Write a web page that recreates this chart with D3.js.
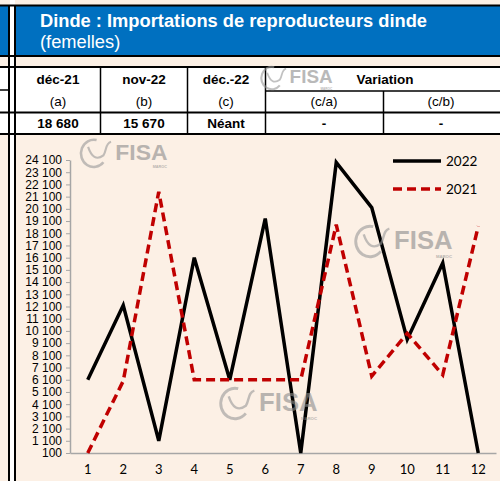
<!DOCTYPE html>
<html>
<head>
<meta charset="utf-8">
<script src="https://cdn.jsdelivr.net/npm/d3@7"></script>
<style>
  body { margin: 0; background: #fff; }
  svg { display: block; }
</style>
</head>
<body>
<svg id="chart" width="500" height="481"></svg>
<script>
// data
var months = ["1","2","3","4","5","6","7","8","9","10","11","12"];
var val2022 = [6100, 12200, 1100, 16100, 6100, 19300, 100, 23900, 20200, 9400, 15670, 100];
var val2021 = [100, 6000, 21500, 6100, 6100, 6100, 6100, 18800, 6400, 9900, 6500, 18680];
var yTicks = d3.range(100, 24101, 1000);

var tableHead = ["déc-21", "nov-22", "déc.-22"];
var tableSub = ["(a)", "(b)", "(c)", "(c/a)", "(c/b)"];
var tableVals = ["18 680", "15 670", "Néant", "-", "-"];

var blue = "#0070C0", beige = "#FCF0E5";
var svg = d3.select("#chart");

// background panels
svg.append("rect").attr("width", 500).attr("height", 481).attr("fill", beige);
svg.append("rect").attr("x", 10).attr("width", 5).attr("height", 481).attr("fill", "#fff");
svg.append("rect").attr("x", 0).attr("y", 6).attr("width", 9).attr("height", 49).attr("fill", blue);
svg.append("rect").attr("x", 16).attr("y", 6).attr("width", 484).attr("height", 49).attr("fill", blue);
svg.append("rect").attr("x", 16).attr("y", 67).attr("width", 484).attr("height", 67).attr("fill", "#fff");
svg.append("rect").attr("x", 0).attr("y", 67).attr("width", 9).attr("height", 67).attr("fill", "#fff");

function hline(x1, x2, y, w) {
  svg.append("line").attr("x1", x1).attr("x2", x2).attr("y1", y).attr("y2", y)
    .attr("stroke", "#000").attr("stroke-width", w);
}
function vline(x, y1, y2, w) {
  svg.append("line").attr("x1", x).attr("x2", x).attr("y1", y1).attr("y2", y2)
    .attr("stroke", "#000").attr("stroke-width", w);
}
hline(0, 500, 5.5, 2);
hline(0, 500, 56, 2);
hline(0, 500, 67, 2);
hline(0, 9, 90, 1.5);
hline(265, 500, 91, 1.5);
hline(0, 500, 112.5, 2);
hline(0, 500, 134, 2);
vline(9, 5, 481, 2);
vline(15, 5, 481, 2);
vline(100.5, 67, 134, 1.5);
vline(187.5, 67, 134, 1.5);
vline(265.5, 67, 134, 1.5);
vline(383.5, 91, 134, 1.5);

// header
svg.append("text").attr("x", 40).attr("y", 27).attr("fill", "#fff")
  .attr("font-family", "Liberation Sans, Arial").attr("font-weight", "bold").attr("font-size", 18.3)
  .text("Dinde : Importations de reproducteurs dinde");
svg.append("text").attr("x", 40).attr("y", 48).attr("fill", "#fff")
  .attr("font-family", "Liberation Sans, Arial").attr("font-size", 18.3)
  .text("(femelles)");

// table
var colCenters = [58, 144, 226, 324, 441];
var tfont = "Liberation Sans, Arial";
tableHead.forEach(function(t, i) {
  svg.append("text").attr("x", colCenters[i]).attr("y", 84).attr("text-anchor", "middle")
    .attr("font-family", tfont).attr("font-weight", "bold").attr("font-size", 13.5).text(t);
});
svg.append("text").attr("x", 385).attr("y", 84).attr("text-anchor", "middle")
  .attr("font-family", tfont).attr("font-weight", "bold").attr("font-size", 13.5).text("Variation");
tableSub.forEach(function(t, i) {
  svg.append("text").attr("x", colCenters[i]).attr("y", 106).attr("text-anchor", "middle")
    .attr("font-family", tfont).attr("font-size", 13.5).text(t);
});
tableVals.forEach(function(t, i) {
  svg.append("text").attr("x", colCenters[i]).attr("y", 128).attr("text-anchor", "middle")
    .attr("font-family", tfont).attr("font-weight", "bold").attr("font-size", 13.5).text(t);
});

// watermark logo (swirl + FISA)
function fisa(x, y, s) {
  var g = svg.append("g").attr("transform", "translate(" + x + "," + y + ") scale(" + s + ")")
    .attr("opacity", 0.6);
  g.append("path").attr("d", "M16,-14 A15,16 0 1,0 24,12")
    .attr("fill", "none").attr("stroke", "#999").attr("stroke-width", 3);
  g.append("path").attr("d", "M6,-6 C10,6 16,10 24,4 C28,-2 26,-10 33,-12")
    .attr("fill", "none").attr("stroke", "#999").attr("stroke-width", 2.5);
  g.append("text").attr("x", 38).attr("y", 9).attr("fill", "#8c8c8c")
    .attr("font-family", "Liberation Sans, Arial").attr("font-weight", "bold").attr("font-size", 27)
    .text("FISA");
  g.append("text").attr("x", 82).attr("y", 19).attr("fill", "#8c8c8c")
    .attr("font-family", "Liberation Sans, Arial").attr("font-weight", "bold").attr("font-size", 4.5)
    .text("MAROC");
}

// chart
var x = d3.scaleBand().domain(months).range([70, 496]);
var y = d3.scaleLinear().domain([100, 24100]).range([453, 160]);
var fmt = d3.formatLocale({ decimal: ",", thousands: " ", grouping: [3], currency: ["", ""] }).format(",d");

var yAxis = svg.append("g").attr("transform", "translate(70,0)")
  .call(d3.axisLeft(y).tickValues(yTicks).tickFormat(fmt).tickSize(4).tickSizeOuter(0));
yAxis.select(".domain").attr("stroke", "#a6a6a6").attr("stroke-width", 1.5);
yAxis.selectAll(".tick line").attr("stroke", "#a6a6a6");
yAxis.selectAll(".tick text").attr("x", -8).attr("fill", "#000")
  .attr("font-family", "Liberation Sans, Arial").attr("font-size", 12);

var xAxis = svg.append("g").attr("transform", "translate(0,453)")
  .call(d3.axisBottom(x).tickSize(0).tickSizeOuter(0));
xAxis.select(".domain").attr("stroke", "#a6a6a6").attr("stroke-width", 1.5);
xAxis.selectAll(".tick text").attr("y", 12).attr("fill", "#000")
  .attr("font-family", "Lato, Open Sans, sans-serif").attr("font-size", 13);

var line = d3.line().x(function(d, i) { return x(months[i]) + x.bandwidth() / 2; })
  .y(function(d) { return y(d); });

svg.append("path").datum(val2022).attr("d", line).attr("fill", "none")
  .attr("stroke", "#000").attr("stroke-width", 3.5).attr("stroke-linejoin", "miter");
svg.append("path").datum(val2021).attr("d", line).attr("fill", "none")
  .attr("stroke", "#C00000").attr("stroke-width", 3.5).attr("stroke-dasharray", "9,5");

// legend
var lg = svg.append("g");
lg.append("line").attr("x1", 393).attr("x2", 441).attr("y1", 161).attr("y2", 161)
  .attr("stroke", "#000").attr("stroke-width", 3.5);
lg.append("line").attr("x1", 393).attr("x2", 441).attr("y1", 189).attr("y2", 189)
  .attr("stroke", "#C00000").attr("stroke-width", 3.5).attr("stroke-dasharray", "9,5");
lg.append("text").attr("x", 446).attr("y", 166).attr("font-family", "Lato, Open Sans, sans-serif")
  .attr("font-size", 13.5).text("2022");
lg.append("text").attr("x", 446).attr("y", 194).attr("font-family", "Lato, Open Sans, sans-serif")
  .attr("font-size", 13.5).text("2021");

fisa(83, 152, 0.85);
fisa(358, 240, 0.95);
fisa(223, 402, 0.95);
fisa(263, 77, 0.7);
</script>
</body>
</html>
